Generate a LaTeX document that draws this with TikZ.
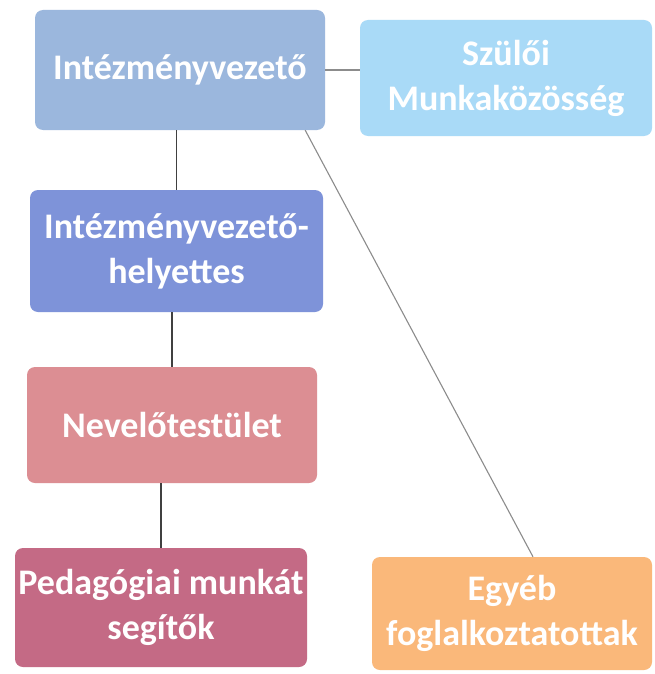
\documentclass[tikz,border=0pt]{standalone}
\usepackage{fontspec}
\newfontfamily\boxfont{Carlito}
\definecolor{cA}{HTML}{9BB7DD}
\definecolor{cB}{HTML}{A9DAF7}
\definecolor{cC}{HTML}{7E93D9}
\definecolor{cD}{HTML}{DC8E93}
\definecolor{cE}{HTML}{C46A85}
\definecolor{cF}{HTML}{FAB87A}
\tikzset{
  orgbox/.style={rectangle, rounded corners=8pt, draw=none, inner sep=0pt,
    align=center, text=white, font=\boxfont\bfseries\fontsize{36}{45}\selectfont},
  darkline/.style={draw=black!75, line width=1.3pt},
  lightline/.style={draw=black!45, line width=1.1pt}
}
\begin{document}
\begin{tikzpicture}[x=1pt,y=-1pt]
\useasboundingbox (0,0) rectangle (655,674);
\fill[white] (0,0) rectangle (655,674);
\node[orgbox, fill=cA, minimum width=290pt, minimum height=120pt] (b1) at (180,70) {Intézményvezető};
\node[orgbox, fill=cB, minimum width=292pt, minimum height=116pt] (szul) at (506,78) {Szülői\\Munkaközösség};
\node[orgbox, fill=cC, minimum width=293pt, minimum height=122pt] (b2) at (176.5,251) {Intézményvezető-\\helyettes};
\node[orgbox, fill=cD, minimum width=290pt, minimum height=116pt] (b3) at (172,425) {Nevelőtestület};
\node[orgbox, fill=cE, minimum width=292pt, minimum height=119pt] (b4) at (161,607.5) {Pedagógiai munkát\\segítők};
\node[orgbox, fill=cF, minimum width=280pt, minimum height=113pt] (egy) at (512,613.5) {Egyéb\\foglalkoztatottak};
\draw[lightline] (b1.east) -- (szul.west |- b1.east);
\draw[darkline] (b2.north) -- (b2.north |- b1.south);
\draw[darkline] (b3.north) -- (b3.north |- b2.south);
\draw[darkline] (b4.north) -- (b4.north |- b3.south);
\draw[lightline] ([xshift=-20pt]b1.south east) -- ([xshift=21pt]egy.north);
\end{tikzpicture}
\end{document}
